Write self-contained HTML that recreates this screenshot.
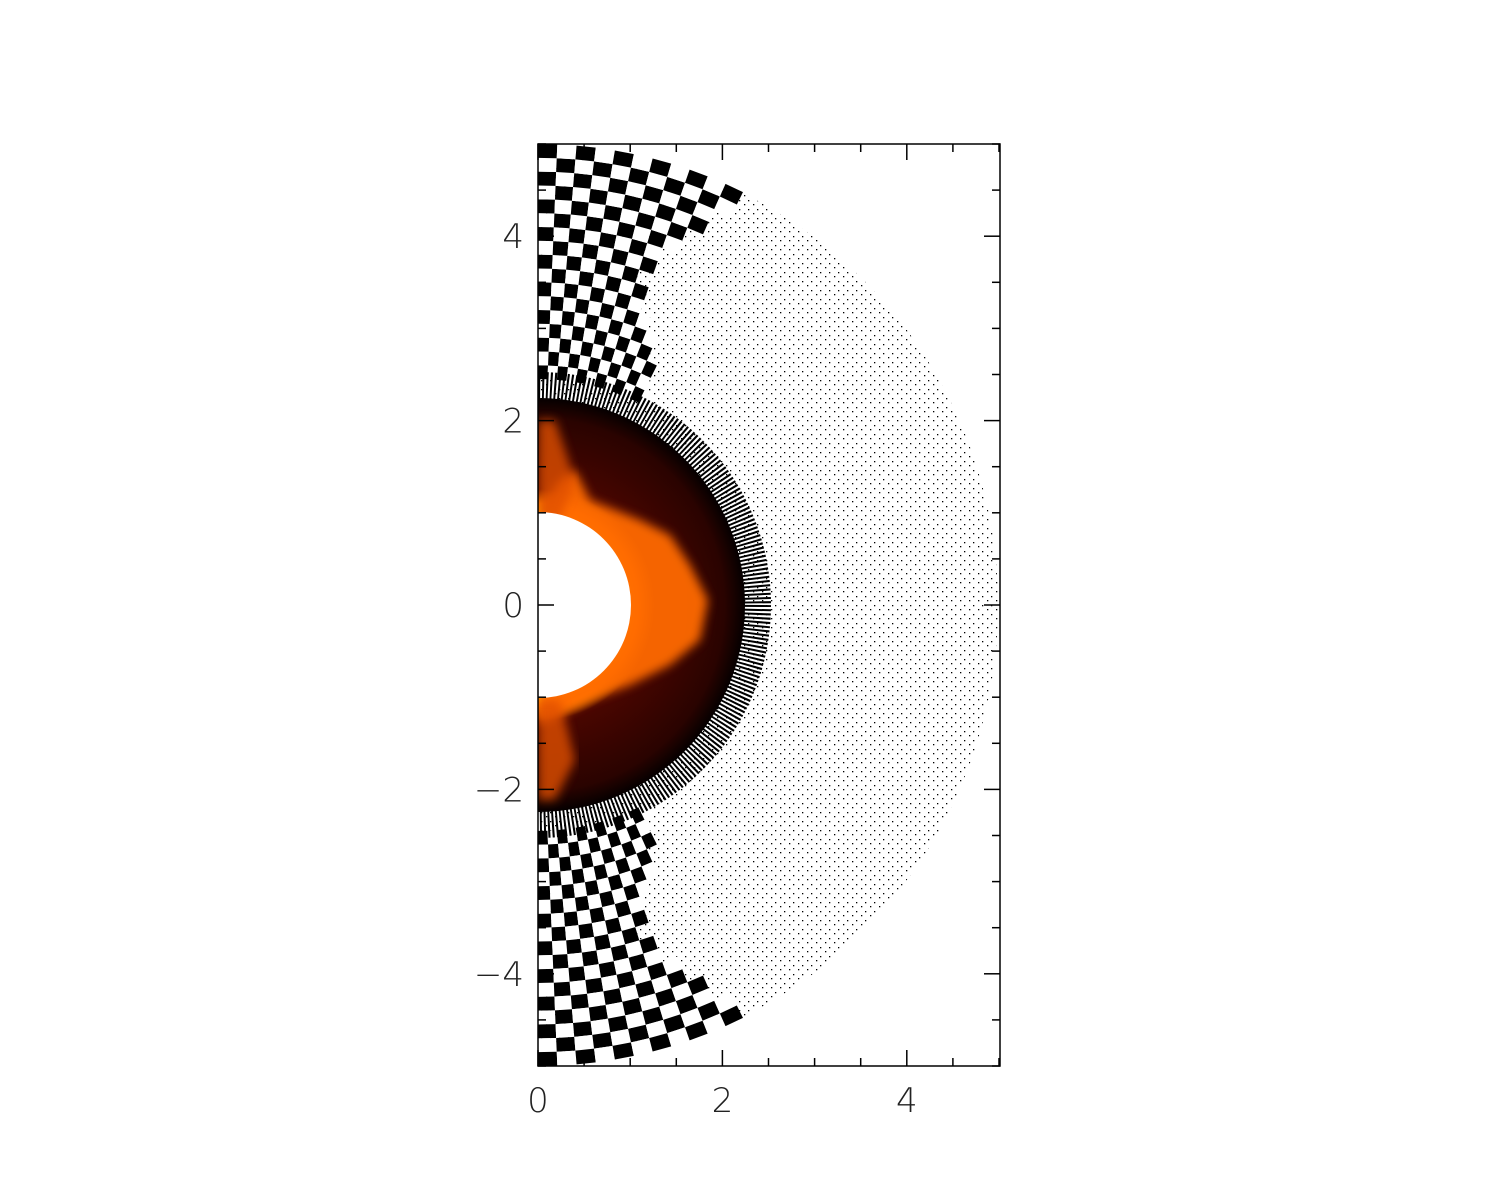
<!DOCTYPE html>
<html><head><meta charset="utf-8"><style>
html,body{margin:0;padding:0;background:#fff;}
svg{display:block;}
text{font-family:"DejaVu Sans","Liberation Sans",sans-serif;font-weight:200;font-size:34px;fill:#222;}
</style></head><body>
<svg id="chart" width="1500" height="1200" viewBox="0 0 1500 1200" xmlns="http://www.w3.org/2000/svg">
<defs>
 <pattern id="stip" width="9" height="9" patternUnits="userSpaceOnUse">
  <rect width="9" height="9" fill="#fff"/>
  <rect x="1" y="2" width="1.3" height="1.3" fill="#000"/>
  <rect x="6" y="6" width="1.3" height="1.3" fill="#000"/>
 </pattern>
 <radialGradient id="disk" cx="538" cy="605" r="207" gradientUnits="userSpaceOnUse">
  <stop offset="0.44" stop-color="#ffd000"/>
  <stop offset="0.49" stop-color="#ff8a00"/>
  <stop offset="0.56" stop-color="#4a0600"/>
  <stop offset="0.9" stop-color="#2a0300"/>
  <stop offset="1" stop-color="#050000"/>
 </radialGradient>
 <clipPath id="plotclip"><rect x="538" y="144" width="462" height="922"/></clipPath>
 <filter id="blur"><feGaussianBlur stdDeviation="5"/></filter>
</defs>
<g clip-path="url(#plotclip)" id="field">
 <circle cx="538" cy="605" r="460" fill="url(#stip)"/>
 <g id="checks"></g>
 <circle cx="538" cy="605" r="219" fill="none" stroke="#000" stroke-width="28" stroke-dasharray="2 2"/>
 <circle cx="538" cy="605" r="207" fill="url(#disk)"/>
 <path filter="url(#blur)" fill="#ff6a00" opacity="0.95" d="M538,512 L560,480 L575,470 L590,500 L640,520 L670,535 L690,565 L708,600 L700,640 L670,665 L630,685 L590,700 L560,715 L538,725 Z"/>
 <path filter="url(#blur)" fill="#e05000" opacity="0.8" d="M538,420 L555,420 L575,480 L560,520 L538,520 Z M538,700 L560,700 L575,760 L555,800 L538,800 Z"/>
 <circle cx="538" cy="605" r="93" fill="#fff"/>
</g>
<rect x="538" y="144" width="462" height="922" fill="none" stroke="#000" stroke-width="1.5"/>
<g id="axes"></g>
</svg>
<script>
const xTicks=[0,2,4];
const yTicks=[-4,-2,0,2,4];
const X0=538,Y0=605,S=92.2;
const sx=v=>X0+v*S, sy=v=>Y0-v*S;
const NS="http://www.w3.org/2000/svg";
const ax=document.getElementById('axes');
function ln(x1,y1,x2,y2,name){const l=document.createElementNS(NS,'line');
l.setAttribute('x1',x1);l.setAttribute('y1',y1);l.setAttribute('x2',x2);l.setAttribute('y2',y2);
l.setAttribute('stroke','#000');l.setAttribute('stroke-width','1.5');


ax.appendChild(l);}
for(let v=0;v<=5.001;v+=0.5){const maj=Math.abs(v%2)<1e-6;const L=maj?16:8;
 ln(sx(v),1066,sx(v),1066-L,'x-tick');ln(sx(v),144,sx(v),144+L,'x-tick');}
for(let v=-5;v<=5.001;v+=0.5){const maj=Math.abs(v%2)<1e-6;const L=maj?16:8;
 ln(538,sy(v),538+L,sy(v),'y-tick');ln(1000,sy(v),1000-L,sy(v),'y-tick');}
xTicks.forEach(v=>{const t=document.createElementNS(NS,'text');t.setAttribute('x',sx(v));t.setAttribute('y',1112);
 t.setAttribute('text-anchor','middle');t.textContent=String(v);
 
 ax.appendChild(t);});
yTicks.forEach(v=>{const t=document.createElementNS(NS,'text');t.setAttribute('x',524);t.setAttribute('y',sy(v)+12);
 t.setAttribute('text-anchor','end');t.textContent=(v<0?'\u2212'+(-v):String(v));
 
 ax.appendChild(t);});
const ch=document.getElementById('checks');
function cell(r1,r2,a1,a2,pole,fill){
 const p=(r,a)=>[X0+r*S*Math.sin(a),Y0-pole*r*S*Math.cos(a)];
 const A=p(r1,a1),B=p(r2,a1),C=p(r2,a2),D=p(r1,a2);
 const path=document.createElementNS(NS,'path');
 path.setAttribute('d','M'+A+'L'+B+'L'+C+'L'+D+'Z');path.setAttribute('fill',fill);
 
 
 ch.appendChild(path);}
[1,-1].forEach(pole=>{
 const dr=0.15,da=2.4*Math.PI/180;
 for(let i=0;2.45+i*dr<4.95;i++){const r1=2.45+i*dr,r2=r1+dr;
  const frac=(r1-2.45)/2.5;
  const deg=frac<0.5?(27-frac*22):(16+(frac-0.5)*22);
  const amax=deg*Math.PI/180;
  for(let j=0;j*da<amax;j++){ cell(r1,r2,j*da,(j+1)*da,pole,(i+j)%2===0?'#000':'#fff');}
 }
});
</script>
</body></html>
